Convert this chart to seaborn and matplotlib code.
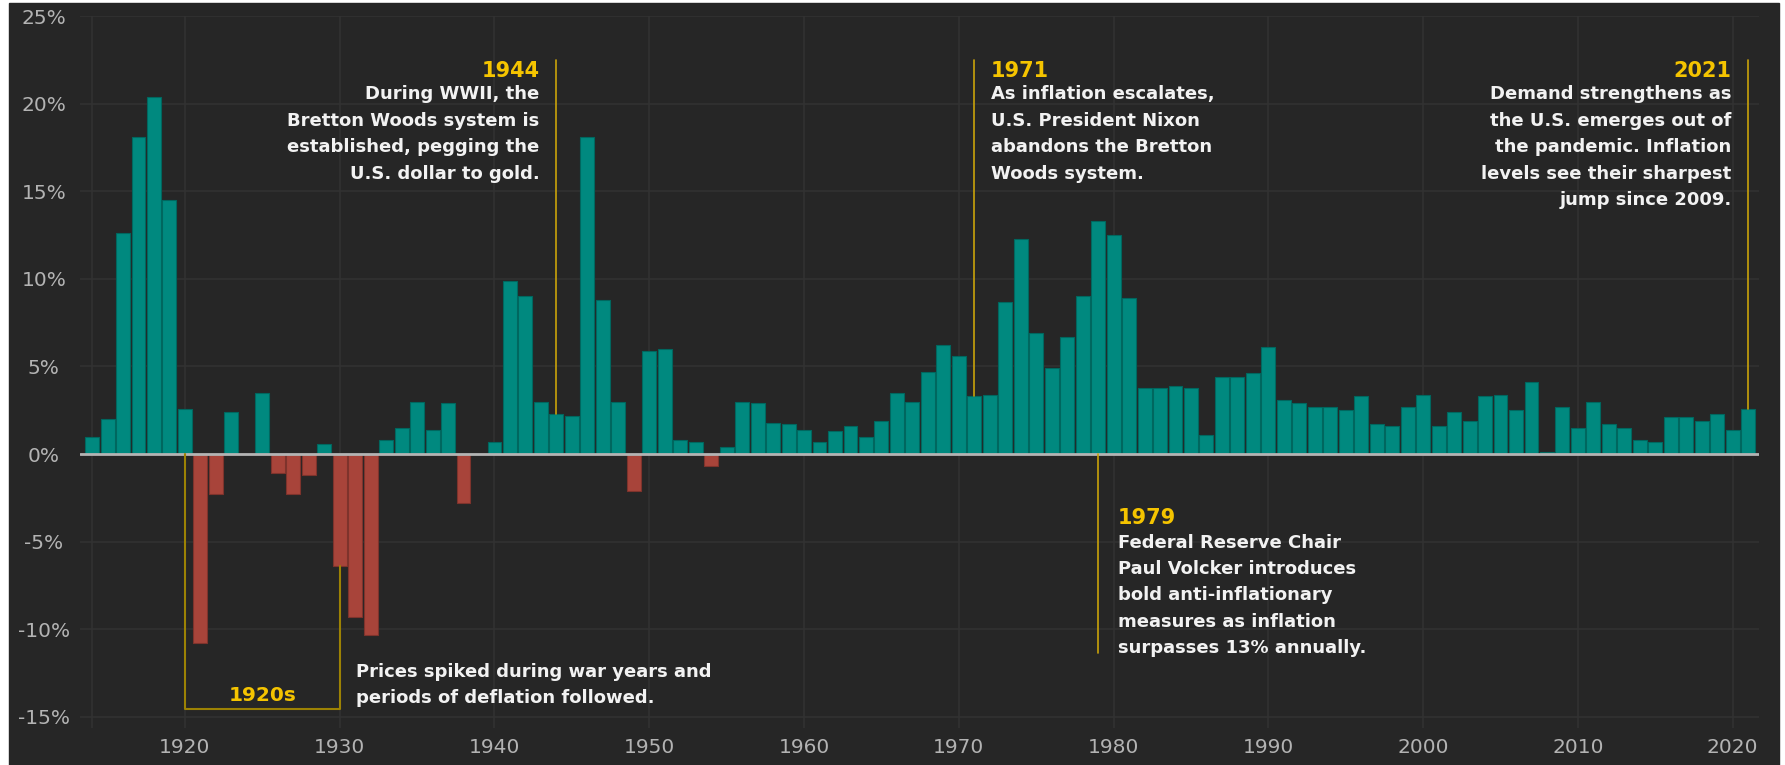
import numpy as np
import pandas as pd
import seaborn as sns
import matplotlib.pyplot as plt
from matplotlib.patches import Rectangle

sns.set_theme(style="darkgrid")
plt.rcParams['font.family'] = ['DejaVu Sans']

# annual U.S. inflation rate (%), 1914-2021
years = list(range(1914, 2022))
rates = [
    1.0, 2.0, 12.6, 18.1, 20.4, 14.5,
    2.6, -10.8, -2.3, 2.4, 0.0, 3.5, -1.1, -2.3, -1.2, 0.6,
    -6.4, -9.3, -10.3, 0.8, 1.5, 3.0, 1.4, 2.9, -2.8, 0.0,
    0.7, 9.9, 9.0, 3.0, 2.3, 2.2, 18.1, 8.8, 3.0, -2.1,
    5.9, 6.0, 0.8, 0.7, -0.7, 0.4, 3.0, 2.9, 1.8, 1.7,
    1.4, 0.7, 1.3, 1.6, 1.0, 1.9, 3.5, 3.0, 4.7, 6.2,
    5.6, 3.3, 3.4, 8.7, 12.3, 6.9, 4.9, 6.7, 9.0, 13.3,
    12.5, 8.9, 3.8, 3.8, 3.9, 3.8, 1.1, 4.4, 4.4, 4.6,
    6.1, 3.1, 2.9, 2.7, 2.7, 2.5, 3.3, 1.7, 1.6, 2.7,
    3.4, 1.6, 2.4, 1.9, 3.3, 3.4, 2.5, 4.1, 0.1, 2.7,
    1.5, 3.0, 1.7, 1.5, 0.8, 0.7, 2.1, 2.1, 1.9, 2.3,
    1.4, 2.6,
]
x_ticks = [1914] + list(range(1920, 2021, 10))
x_labels = [''] + [str(y) for y in range(1920, 2021, 10)]
y_ticks = list(range(-15, 26, 5))

events_up = [
    (1944, 'right', "During WWII, the\nBretton Woods system is\nestablished, pegging the\nU.S. dollar to gold."),
    (1971, 'left', "As inflation escalates,\nU.S. President Nixon\nabandons the Bretton\nWoods system."),
    (2021, 'right', "Demand strengthens as\nthe U.S. emerges out of\nthe pandemic. Inflation\nlevels see their sharpest\njump since 2009."),
]
volcker_text = ("Federal Reserve Chair\nPaul Volcker introduces\nbold anti-inflationary\n"
                "measures as inflation\nsurpasses 13% annually.")
decade_text = "Prices spiked during war years and\nperiods of deflation followed."

BG = '#262626'
GRID = '#323232'
TEAL = '#00897f'
RED = '#a8443a'
GOLD = '#f5c400'
GOLD_LINE = '#c9a20a'
TEXT = '#f2f2f2'
TICK = '#b3b3b3'

df = pd.DataFrame({'year': years, 'rate': rates})
df['sign'] = np.where(df['rate'] < 0, 'neg', 'pos')
rate_of = dict(zip(years, rates))

fig = plt.figure(figsize=(17.85, 7.65), dpi=100, facecolor='white')
fig.patches.append(Rectangle((9 / 1785, 0), 1770 / 1785, 762 / 765,
                             transform=fig.transFigure, color=BG, zorder=-10))
ax = fig.add_axes([80 / 1785, 1 - 728 / 765, 1679 / 1785, 712 / 765])
ax.set_facecolor(BG)

sns.barplot(data=df, x='year', y='rate', hue='sign', palette={'pos': TEAL, 'neg': RED},
            native_scale=True, dodge=False, width=0.9, saturation=1, legend=False, ax=ax)
for p in ax.patches:
    fc = np.array(p.get_facecolor())
    p.set_edgecolor(tuple(fc[:3] * 0.75) + (1,))
    p.set_linewidth(0.8)

ax.set_xlim(1913.22, 2021.7)
ax.set_ylim(-15.63, 25)
ax.set_xticks(x_ticks, x_labels)
ax.set_yticks(y_ticks, [f'{v}%' for v in y_ticks])
ax.set_xlabel('')
ax.set_ylabel('')
ax.grid(True, color=GRID, lw=1.1)
ax.set_axisbelow(True)
for s in ax.spines.values():
    s.set_visible(False)
ax.tick_params(axis='both', length=0, colors=TICK, labelsize=14.5)
ax.tick_params(axis='y', pad=26)
ax.tick_params(axis='x', pad=7)
for lab in ax.get_yticklabels():
    lab.set_horizontalalignment('center')

ax.axhline(0, color='#b4b4b4', lw=2.0, zorder=4)

body_kw = dict(textcoords='offset points', color=TEXT, fontsize=13,
               fontweight='bold', linespacing=1.6, va='top')
year_kw = dict(textcoords='offset points', color=GOLD, fontsize=15,
               fontweight='bold', va='baseline')

# event markers above the bars
for yr, side, body in events_up:
    ax.plot([yr, yr], [rate_of[yr], 22.5], color=GOLD_LINE, lw=1.2, zorder=5)
    dx = -12 if side == 'right' else 12
    ax.annotate(str(yr), xy=(yr, 21.5), xytext=(dx, 0), ha=side, **year_kw)
    ax.annotate(body, xy=(yr, 21.04), xytext=(dx, 0), ha=side,
                multialignment=side, **body_kw)

# 1979 marker below the axis
ax.plot([1979, 1979], [0, -11.35], color=GOLD_LINE, lw=1.2, zorder=5)
ax.annotate('1979', xy=(1979, -4.0), xytext=(14, 0), ha='left', **year_kw)
ax.annotate(volcker_text, xy=(1979, -4.54), xytext=(14, 0), ha='left', **body_kw)

# 1920s bracket
ax.plot([1920, 1920, 1930, 1930], [0, -14.55, -14.55, rate_of[1930]],
        color='#9c8204', lw=1.5, zorder=5)
ax.text(1925, -14.1, '1920s', ha='center', va='baseline', color=GOLD,
        fontsize=14.5, fontweight='bold')
ax.annotate(decade_text, xy=(1930, -11.9), xytext=(11.5, 0), ha='left', **body_kw)

fig.savefig('out.png', dpi=100, facecolor=fig.get_facecolor())
